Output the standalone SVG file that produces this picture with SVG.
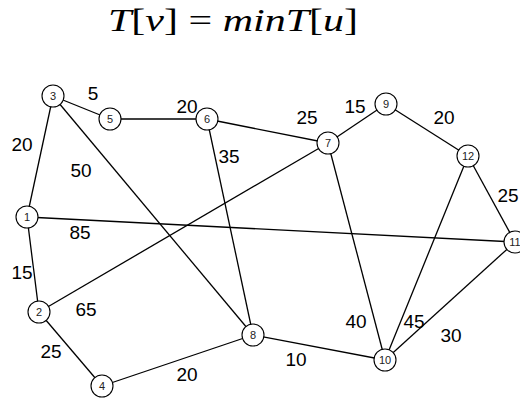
<svg xmlns="http://www.w3.org/2000/svg" width="520" height="398" viewBox="0 0 520 398">
<style>
.e{stroke:#000;stroke-width:1.3;fill:none}
.n circle{fill:#fff;stroke:#000;stroke-width:1.1}
.n text{font-size:11px;text-anchor:middle;fill:#222}
.w{font-size:19px;text-anchor:middle;fill:#000}
</style>
<rect width="520" height="398" fill="#fff"/>
<text font-family="'Liberation Serif', 'Times New Roman', serif" font-size="31" x="108" y="31" textLength="250" lengthAdjust="spacingAndGlyphs" fill="#000"><tspan font-style="italic">T</tspan>[<tspan font-style="italic">v</tspan>] = <tspan font-style="italic">minT</tspan>[<tspan font-style="italic">u</tspan>]</text>
<g id="edges">
<line class="e" x1="53" y1="96" x2="110" y2="119"/>
<line class="e" x1="110" y1="119" x2="207" y2="119"/>
<line class="e" x1="207" y1="119" x2="328" y2="143"/>
<line class="e" x1="328" y1="143" x2="386" y2="104"/>
<line class="e" x1="386" y1="104" x2="468" y2="156"/>
<line class="e" x1="468" y1="156" x2="515" y2="242"/>
<line class="e" x1="53" y1="96" x2="27" y2="217"/>
<line class="e" x1="53" y1="96" x2="253" y2="335"/>
<line class="e" x1="207" y1="119" x2="253" y2="335"/>
<line class="e" x1="27" y1="217" x2="515" y2="242"/>
<line class="e" x1="27" y1="217" x2="39" y2="312"/>
<line class="e" x1="39" y1="312" x2="328" y2="143"/>
<line class="e" x1="39" y1="312" x2="102" y2="386"/>
<line class="e" x1="102" y1="386" x2="253" y2="335"/>
<line class="e" x1="253" y1="335" x2="385" y2="360"/>
<line class="e" x1="328" y1="143" x2="385" y2="360"/>
<line class="e" x1="468" y1="156" x2="385" y2="360"/>
<line class="e" x1="385" y1="360" x2="515" y2="242"/>
</g>
<g id="weights" font-family="'Liberation Sans', Arial, sans-serif">
<text class="w" x="93" y="100">5</text>
<text class="w" x="187" y="113">20</text>
<text class="w" x="22" y="151">20</text>
<text class="w" x="81" y="177">50</text>
<text class="w" x="229" y="163">35</text>
<text class="w" x="307" y="124">25</text>
<text class="w" x="355" y="113">15</text>
<text class="w" x="444" y="124">20</text>
<text class="w" x="508" y="202">25</text>
<text class="w" x="80" y="239">85</text>
<text class="w" x="22" y="279">15</text>
<text class="w" x="86" y="316">65</text>
<text class="w" x="51" y="358">25</text>
<text class="w" x="187" y="381">20</text>
<text class="w" x="356" y="328">40</text>
<text class="w" x="414" y="328">45</text>
<text class="w" x="451" y="342">30</text>
<text class="w" x="296" y="366">10</text>
</g>
<g id="nodes" font-family="'Liberation Sans', Arial, sans-serif">
<g id="n1" class="n"><circle cx="27" cy="217" r="11"/><text x="27" y="221">1</text></g>
<g id="n2" class="n"><circle cx="39" cy="312" r="11"/><text x="39" y="316">2</text></g>
<g id="n3" class="n"><circle cx="53" cy="96" r="11"/><text x="53" y="100">3</text></g>
<g id="n4" class="n"><circle cx="102" cy="386" r="11"/><text x="102" y="390">4</text></g>
<g id="n5" class="n"><circle cx="110" cy="119" r="11"/><text x="110" y="123">5</text></g>
<g id="n6" class="n"><circle cx="207" cy="119" r="11"/><text x="207" y="123">6</text></g>
<g id="n7" class="n"><circle cx="328" cy="143" r="11"/><text x="328" y="147">7</text></g>
<g id="n8" class="n"><circle cx="253" cy="335" r="11"/><text x="253" y="339">8</text></g>
<g id="n9" class="n"><circle cx="386" cy="104" r="11"/><text x="386" y="108">9</text></g>
<g id="n10" class="n"><circle cx="385" cy="360" r="11"/><text x="385" y="364">10</text></g>
<g id="n11" class="n"><circle cx="515" cy="242" r="11"/><text x="515" y="246">11</text></g>
<g id="n12" class="n"><circle cx="468" cy="156" r="11"/><text x="468" y="160">12</text></g>
</g>
</svg>
